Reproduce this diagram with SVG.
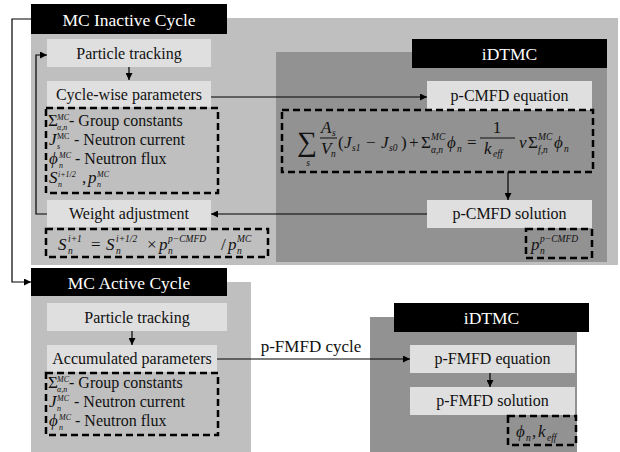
<svg xmlns="http://www.w3.org/2000/svg" width="620" height="452" viewBox="0 0 620 452">
<style>
text{font-family:"Liberation Serif","Times New Roman",serif;fill:#111}
.hdr{fill:#fff;font-size:17.5px;text-anchor:middle}
.lbl{font-size:16px;text-anchor:middle}
.t{font-size:16px}
.m{font-size:17px;font-style:italic}
.u{font-size:17px}
.s{font-size:9.5px;font-style:italic}
.ls{font-size:8px;font-style:italic}
.lsu{font-size:8px}
.panel{fill:#bfbfbf}
.inner{fill:#929292}
.box{fill:#dfdfdf}
.dash{fill:none;stroke:#000;stroke-width:2.5;stroke-dasharray:7 4}
.head{fill:#000}
.ln{fill:none;stroke:#000;stroke-width:1.2}
</style>
<defs>
<marker id="ah" viewBox="0 0 10 10" refX="10" refY="5" markerWidth="7" markerHeight="7" markerUnits="userSpaceOnUse" orient="auto">
<path d="M0,0 L10,5 L0,10 z" fill="#000"/>
</marker>
</defs>
<rect width="620" height="452" fill="#fff"/>

<g id="inactive">
<rect class="panel" x="31" y="18" width="587" height="247"/>
<rect class="head" x="31" y="4" width="196" height="30"/>
<text class="hdr" x="129" y="26">MC Inactive Cycle</text>
</g>

<g id="idtmc1">
<rect class="inner" x="276" y="52" width="331" height="210"/>
<rect class="head" x="412" y="39" width="195" height="29"/>
<text class="hdr" x="509.5" y="60">iDTMC</text>
</g>

<g id="pt1">
<rect class="box" x="47" y="39" width="164" height="28"/>
<text class="lbl" x="129" y="59">Particle tracking</text>
</g>

<g id="cwp">
<rect class="box" x="47" y="81" width="164" height="26"/>
<text class="lbl" x="129" y="100">Cycle-wise parameters</text>
</g>

<g id="list1">
<rect class="dash" x="46" y="108" width="172" height="85"/>
<text class="u" x="48" y="126">Σ</text>
<text class="ls" x="57" y="119.5">MC</text>
<text class="ls" x="57" y="129.5">α,n</text>
<text class="t" x="69" y="126">- Group constants</text>
<text class="m" x="49" y="145">J</text>
<text class="lsu" x="57" y="138.5">MC</text>
<text class="ls" x="57" y="148.5">s</text>
<text class="t" x="74" y="145">- Neutron current</text>
<text class="m" x="49" y="164">ϕ</text>
<text class="ls" x="59" y="157.5">MC</text>
<text class="ls" x="59" y="167.5">n</text>
<text class="t" x="75" y="164">- Neutron flux</text>
<text class="m" x="49" y="183">S</text>
<text class="ls" x="58" y="176.5">i+1/2</text>
<text class="ls" x="58" y="186.5">n</text>
<text class="u" x="82" y="183">,</text>
<text class="m" x="88" y="183">p</text>
<text class="ls" x="97" y="176.5">MC</text>
<text class="ls" x="97" y="186.5">n</text>
</g>

<g id="wa">
<rect class="box" x="47" y="200" width="164" height="27"/>
<text class="lbl" x="129" y="219">Weight adjustment</text>
</g>

<g id="supd">
<rect class="dash" x="46" y="229" width="222" height="28"/>
<text class="m" x="58" y="250">S</text>
<text class="s" x="68" y="242">i+1</text>
<text class="s" x="68" y="254">n</text>
<text class="u" x="91" y="250">=</text>
<text class="m" x="106" y="250">S</text>
<text class="s" x="116" y="242">i+1/2</text>
<text class="s" x="116" y="254">n</text>
<text class="u" x="147" y="250">×</text>
<text class="m" x="159" y="250">p</text>
<text class="s" x="168" y="242">p−CMFD</text>
<text class="s" x="168" y="254">n</text>
<text class="u" x="221" y="250">/</text>
<text class="m" x="228" y="250">p</text>
<text class="s" x="237" y="242">MC</text>
<text class="s" x="237" y="254">n</text>
</g>

<g id="cmfdeq">
<rect class="box" x="427" y="81" width="165" height="29"/>
<text class="lbl" x="509.5" y="101">p-CMFD equation</text>
</g>

<g id="eq">
<rect class="dash" x="282" y="110" width="311" height="62"/>
<text class="u" x="297" y="151" style="font-size:28px">∑</text>
<text class="s" x="308" y="166" text-anchor="middle">s</text>
<text class="m" x="321" y="133">A</text>
<text class="s" x="332" y="136">s</text>
<line x1="320" y1="138" x2="337" y2="138" stroke="#111" stroke-width="1"/>
<text class="m" x="321" y="154">V</text>
<text class="s" x="331" y="157">n</text>
<text class="u" x="338" y="148">(</text>
<text class="m" x="344" y="148">J</text>
<text class="s" x="352" y="151">s1</text>
<text class="u" x="366" y="148">−</text>
<text class="m" x="381" y="148">J</text>
<text class="s" x="389" y="151">s0</text>
<text class="u" x="401" y="148">)</text>
<text class="u" x="409" y="148">+</text>
<text class="u" x="421" y="148">Σ</text>
<text class="s" x="431" y="140">MC</text>
<text class="s" x="431" y="153">α,n</text>
<text class="m" x="447" y="148">ϕ</text>
<text class="s" x="457" y="152">n</text>
<text class="u" x="467" y="148">=</text>
<text class="u" x="497" y="133" text-anchor="middle">1</text>
<line x1="480" y1="138" x2="515" y2="138" stroke="#111" stroke-width="1"/>
<text class="m" x="484" y="154">k</text>
<text class="s" x="493" y="157">eff</text>
<text class="m" x="519" y="148">ν</text>
<text class="u" x="528" y="148">Σ</text>
<text class="s" x="538" y="140">MC</text>
<text class="s" x="538" y="153">f,n</text>
<text class="m" x="554" y="148">ϕ</text>
<text class="s" x="564" y="152">n</text>
</g>

<g id="cmfdsol">
<rect class="box" x="427" y="200" width="165" height="28"/>
<text class="lbl" x="509.5" y="219">p-CMFD solution</text>
</g>

<g id="pcmfd">
<rect class="dash" x="526" y="229" width="66" height="29"/>
<text class="m" x="531" y="250">p</text>
<text class="s" x="540" y="242">p−CMFD</text>
<text class="s" x="540" y="254">n</text>
</g>

<g id="active">
<rect class="panel" x="31" y="282" width="220" height="170"/>
<rect class="head" x="31" y="268" width="196" height="28"/>
<text class="hdr" x="129" y="289">MC Active Cycle</text>
</g>

<g id="pt2">
<rect class="box" x="47" y="303" width="180" height="28"/>
<text class="lbl" x="137" y="323">Particle tracking</text>
</g>

<g id="acc">
<rect class="box" x="47" y="345" width="170" height="27"/>
<text class="lbl" x="132" y="364">Accumulated parameters</text>
</g>

<g id="list2">
<rect class="dash" x="46" y="373" width="172" height="62"/>
<text class="u" x="48" y="388">Σ</text>
<text class="ls" x="57" y="381.5">MC</text>
<text class="ls" x="57" y="391.5">α,n</text>
<text class="t" x="69" y="388">- Group constants</text>
<text class="m" x="49" y="407">J</text>
<text class="ls" x="57" y="400.5">MC</text>
<text class="ls" x="57" y="410.5">n</text>
<text class="t" x="74" y="407">- Neutron current</text>
<text class="m" x="49" y="426">ϕ</text>
<text class="ls" x="59" y="419.5">MC</text>
<text class="ls" x="59" y="429.5">n</text>
<text class="t" x="75" y="426">- Neutron flux</text>
</g>

<g id="idtmc2">
<rect class="inner" x="370" y="317" width="207" height="135"/>
<rect class="head" x="394" y="303" width="195" height="29"/>
<text class="hdr" x="491.5" y="324">iDTMC</text>
</g>

<g id="fmfdeq">
<rect class="box" x="410" y="345" width="165" height="28"/>
<text class="lbl" x="492.5" y="364">p-FMFD equation</text>
</g>

<g id="fmfdsol">
<rect class="box" x="410" y="387" width="165" height="28"/>
<text class="lbl" x="492.5" y="406">p-FMFD solution</text>
</g>

<g id="phik">
<rect class="dash" x="508" y="416" width="68" height="29"/>
<text class="m" x="516" y="437">ϕ</text>
<text class="s" x="526" y="441">n</text>
<text class="u" x="532" y="437">,</text>
<text class="m" x="538" y="437">k</text>
<text class="s" x="547" y="441">eff</text>
</g>

<g id="connectors">
<path class="ln" d="M129,67 V80" marker-end="url(#ah)"/>
<path class="ln" d="M211,97 H427" marker-end="url(#ah)"/>
<path class="ln" d="M508,172 V200" marker-end="url(#ah)"/>
<path class="ln" d="M427,214 H211" marker-end="url(#ah)"/>
<path class="ln" d="M47,214 H36 V55 H47" marker-end="url(#ah)"/>
<path class="ln" d="M31,19 H12 V282 H31" marker-end="url(#ah)"/>
<path class="ln" d="M132,331 V345" marker-end="url(#ah)"/>
<path class="ln" d="M217,359 H410" marker-end="url(#ah)"/>
<text x="311" y="352" style="font-size:17px;text-anchor:middle">p-FMFD cycle</text>
<path class="ln" d="M490,373 V387" marker-end="url(#ah)"/>
</g>
</svg>
